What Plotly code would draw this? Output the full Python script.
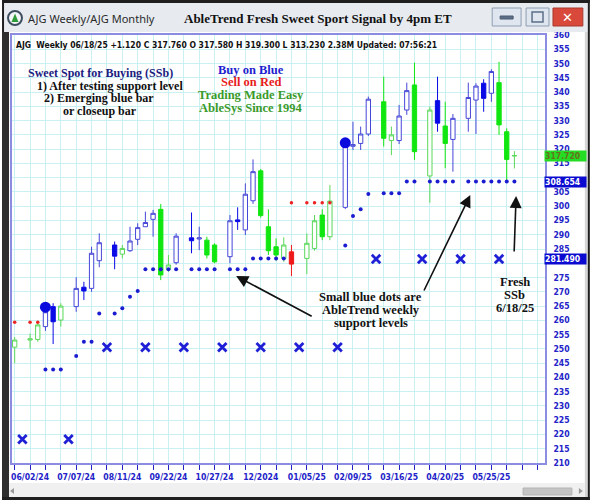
import plotly.graph_objects as go

# ---------------- data ----------------
# One slot per weekly bar; "" / None slots are blank separator columns.
week_dates = [
    "05/26/24", "", "06/02/24", "06/09/24", "06/16/24", "06/23/24", "06/30/24", "",
    "07/07/24", "07/14/24", "07/21/24", "07/28/24", "",
    "08/04/24", "08/11/24", "08/18/24", "08/25/24", "09/01/24", "09/08/24", "09/15/24", "09/22/24", "09/29/24", "",
    "10/06/24", "10/13/24", "10/20/24", "10/27/24", "",
    "11/03/24", "11/10/24", "11/17/24", "11/24/24", "12/01/24", "12/08/24", "12/15/24", "12/22/24", "12/29/24", "",
    "01/05/25", "01/12/25", "01/19/25", "01/26/25", "",
    "02/02/25", "02/09/25", "02/16/25", "02/23/25", "",
    "03/02/25", "03/09/25", "03/16/25", "03/23/25", "03/30/25", "",
    "04/06/25", "04/13/25", "04/20/25", "04/27/25", "",
    "05/04/25", "05/11/25", "05/18/25", "05/25/25", "06/01/25", "06/08/25", "06/15/25",
]

# AbleTrend bar colour: B = blue (up trend), G = green (neutral), R = red (down trend)
trend = [
    "G", "", "G", "G", "B", "B", "G", "",
    "B", "B", "B", "B", "",
    "B", "G", "B", "B", "B", "B", "G", "G", "B", "",
    "B", "B", "G", "G", "",
    "B", "B", "B", "B", "G", "G", "G", "G", "R", "",
    "G", "G", "G", "G", "",
    "B", "B", "B", "B", "",
    "G", "G", "B", "B", "G", "",
    "G", "B", "G", "B", "",
    "B", "B", "B", "B", "G", "G", "G",
]

opens = [
    250.6, None, 253.1, 253.3, 257.8, 264.8, 260.1, None,
    264.8, 271.6, 271.2, 280.9, None,
    286.4, 283.2, 284.4, 288.4, 292.8, 295.4, 298.9, 277.9, 280.2, None,
    288.9, 288.5, 288.1, 286.4, None,
    282.3, 295.2, 291.7, 301.9, 312.4, 292.8, 285.8, 281.7, 284.0, None,
    281.7, 285.2, 296.9, 289.3, None,
    299.6, 321.0, 322.0, 325.3, None,
    336.6, 323.0, 323.0, 333.7, 342.5, None,
    310.6, 337.0, 328.1, 323.4, None,
    330.8, 337.2, 343.1, 339.6, 343.3, 326.1, 317.58,
]
highs = [
    254.1, None, 255.4, 259.5, 264.5, 266.0, 266.0, None,
    275.1, 273.5, 285.8, 290.5, None,
    287.6, 286.4, 292.8, 294.0, 298.1, 298.7, 300.8, 282.9, 290.5, None,
    297.8, 292.8, 289.3, 287.0, None,
    296.9, 299.6, 308.0, 316.4, 313.0, 298.9, 288.7, 289.1, 286.4, None,
    290.5, 296.9, 298.9, 307.4, None,
    322.3, 329.6, 327.9, 338.4, None,
    345.4, 327.9, 335.5, 343.3, 350.3, None,
    334.9, 345.4, 336.6, 332.3, None,
    343.3, 343.1, 344.5, 348.0, 350.6, 327.3, 319.3,
]
lows = [
    245.0, None, 250.1, 252.5, 256.3, 251.7, 257.8, None,
    263.0, 267.1, 270.0, 278.6, None,
    277.9, 281.7, 284.0, 286.4, 292.8, 289.3, 274.1, 277.0, 279.5, None,
    283.5, 284.6, 281.7, 280.0, None,
    280.0, 291.7, 289.9, 300.8, 296.0, 282.9, 280.9, 280.5, 275.5, None,
    276.2, 284.4, 288.1, 288.1, None,
    299.0, 319.7, 319.7, 324.6, None,
    320.9, 317.9, 321.8, 332.0, 316.2, None,
    301.2, 326.1, 313.3, 312.1, None,
    326.1, 325.3, 333.1, 336.6, 325.0, 308.9, 313.23,
]
closes = [
    253.1, None, 253.5, 258.4, 263.0, 259.5, 265.0, None,
    271.2, 270.3, 283.5, 287.2, None,
    282.5, 285.2, 287.8, 292.5, 294.3, 297.5, 275.9, 279.4, 289.5, None,
    287.9, 288.9, 282.9, 280.5, None,
    294.9, 294.6, 304.2, 312.1, 296.7, 284.4, 282.9, 286.4, 279.7, None,
    287.0, 294.9, 289.3, 301.8, None,
    321.4, 321.6, 325.3, 337.5, None,
    323.8, 325.0, 331.6, 340.5, 319.1, None,
    333.7, 329.1, 322.0, 330.8, None,
    338.1, 342.1, 337.8, 347.2, 328.5, 316.4, 317.76,
]

# weekly support (small blue dots)
support = [
    None, None, None, None, 242.8, 242.8, 242.8, None,
    247.5, 252.5, 252.5, 262.4, None,
    262.4, 264.2, 268.3, 270.3, 277.9, 277.9, 277.9, 277.9, 277.9, None,
    277.9, 277.9, 277.9, 277.9, None,
    277.9, 277.9, 277.9, 281.7, 281.7, 281.7, 281.7, 281.7, None, None,
    None, None, None, None, None,
    286.2, 296.6, 298.9, 304.3, None,
    304.5, 304.5, 304.5, 308.65, 308.65, None,
    308.65, 308.65, 308.65, 308.65, None,
    308.65, 308.65, 308.65, 308.65, 308.65, 308.65, 308.65,
]
# weekly resistance (small red dots)
resistance = [
    259.3, None, 259.3, 259.3, None, None, None, None,
    None, None, None, None, None,
    None, None, None, None, None, None, None, None, None, None,
    None, None, None, None, None,
    None, None, None, None, None, None, None, None, 301.2, None,
    301.2, 301.2, 301.2, 301.2, None,
    None, None, None, None, None,
    None, None, None, None, None, None,
    None, None, None, None, None,
    None, None, None, None, None, None, None,
]
# monthly levels (blue crosses)
monthly_marks = [
    None, 218.3, None, None, None, None, None, 218.3,
    None, None, None, None, 250.6,
    None, None, None, None, 250.6, None, None, None, None, 250.6,
    None, None, None, None, 250.6,
    None, None, None, None, 250.6, None, None, None, None, 250.6,
    None, None, None, None, 250.6,
    None, None, None, None, 281.49,
    None, None, None, None, None, 281.49,
    None, None, None, None, 281.49,
    None, None, None, None, 281.49, None, None,
]
# buy signals (large blue dots)
buy_signal = [None] * 4 + [264.6] + [None] * 38 + [322.2] + [None] * 22

tick_dates = ["06/02/24", "07/07/24", "08/11/24", "09/22/24", "10/27/24", "12/01/24",
              "01/05/25", "02/09/25", "03/16/25", "04/20/25", "05/25/25"]
tick_labels = ["06/02/24", "07/07/24", "08/11/24", "09/22/24", "10/27/24", "12/2024",
               "01/05/25", "02/09/25", "03/16/25", "04/20/25", "05/25/25"]

price_levels = list(range(210, 361, 5))
hidden_levels = [280, 310]          # covered by the value tags

price_tags = [317.72, 308.654, 281.49]
price_tag_text = ["317.720", "308.654", "281.490"]

header = ("AJG  Weekly 06/18/25 +1.120 C 317.760 O 317.580 H 319.300 "
          "L 313.230 2.38M Updated: 07:56:21")

# ---------------- geometry helpers ----------------
W, H = 590, 500
ML, MR, MT, MB = 10, 45, 35, 37
PW, PH = W - ML - MR, H - MT - MB


def px(x):
    return (x - ML) / PW


def py(y):
    return (H - MB - y) / PH


NARROW = "Liberation Sans Narrow, Arial Narrow, DejaVu Sans Condensed, sans-serif"
SERIF = "Liberation Serif, Times New Roman, serif"
UI = "Noto Sans, DejaVu Sans, sans-serif"
AXIS_BLUE = "#2323c8"
AXIS_SIZE = 8.6

slots = list(range(len(week_dates)))

fig = go.Figure()

# candles, one trace per trend colour (hollow = close above open)
styles = {
    "B": ("#4646d8", "#0a0ae6"),
    "G": ("#5ad85a", "#10e610"),
    "R": ("#ee2020", "#ee1a1a"),
}
for key, (hollow_col, solid_col) in styles.items():
    idx = [i for i in slots if trend[i] == key]
    fig.add_trace(go.Candlestick(
        x=idx,
        open=[opens[i] for i in idx], high=[highs[i] for i in idx],
        low=[lows[i] for i in idx], close=[closes[i] for i in idx],
        increasing=dict(line=dict(color=hollow_col, width=1), fillcolor="white"),
        decreasing=dict(line=dict(color=solid_col, width=1), fillcolor=solid_col),
        whiskerwidth=0, hoverinfo="skip", showlegend=False,
    ))

fig.add_trace(go.Scatter(x=slots, y=support, mode="markers",
                         marker=dict(size=4, color="#1c1cd0"),
                         hoverinfo="skip", showlegend=False))
fig.add_trace(go.Scatter(x=slots, y=resistance, mode="markers",
                         marker=dict(size=3.5, color="#ee2222"),
                         hoverinfo="skip", showlegend=False))
fig.add_trace(go.Scatter(x=slots, y=monthly_marks, mode="markers",
                         marker=dict(symbol="x-thin", size=8.5, color="#1f1fd6",
                                     line=dict(width=2.8, color="#1f1fd6")),
                         hoverinfo="skip", showlegend=False))
fig.add_trace(go.Scatter(x=slots, y=buy_signal, mode="markers",
                         marker=dict(size=11, color="#0b0bdd"),
                         hoverinfo="skip", showlegend=False))

# x ticks every second slot, labels at the dated columns
tickvals = list(range(0, 69, 2))
label_at = {week_dates.index(d): t for d, t in zip(tick_dates, tick_labels)}
ticktext = [label_at.get(v, "") for v in tickvals]

y_ticktext = ["" if v in hidden_levels else str(v) for v in price_levels]

slot_px = 7.717
x0 = -(12.7 - ML) / slot_px

fig.update_layout(
    width=W, height=H,
    margin=dict(l=ML, r=MR, t=MT, b=MB),
    paper_bgcolor="white", plot_bgcolor="white",
    boxgap=0.2,
    xaxis=dict(range=[x0, x0 + PW / slot_px], tickmode="array",
               tickvals=tickvals, ticktext=ticktext,
               ticks="outside", ticklen=5, tickcolor=AXIS_BLUE, tickwidth=1,
               showgrid=True, gridcolor="#c9f1f3", gridwidth=1,
               showline=True, mirror=True, linecolor="#8c8ce0", linewidth=1.5,
               zeroline=False, rangeslider=dict(visible=False),
               tickfont=dict(family=NARROW, size=AXIS_SIZE, color=AXIS_BLUE, weight="bold"),
               tickangle=0, fixedrange=True),
    yaxis=dict(range=[210, 360], tickmode="array",
               tickvals=price_levels, ticktext=y_ticktext, side="right",
               showgrid=True, gridcolor="#c9f1f3", gridwidth=1,
               showline=True, mirror=True, linecolor="#8c8ce0", linewidth=1.5,
               zeroline=False, ticks="", ticklabelstandoff=5,
               tickfont=dict(family=NARROW, size=AXIS_SIZE, color=AXIS_BLUE, weight="bold"),
               fixedrange=True),
)

shapes = []
ann = []


def rect(x0_, y0_, x1_, y1_, fill, line=None, lw=0, layer="above"):
    shapes.append(dict(type="rect", xref="paper", yref="paper",
                       x0=px(x0_), x1=px(x1_), y0=py(y1_), y1=py(y0_),
                       fillcolor=fill, line=dict(color=line or fill, width=lw),
                       layer=layer))


def text(x, y, s, size, color, family=SERIF, bold=True, xanchor="center"):
    ann.append(dict(xref="paper", yref="paper", x=px(x), y=py(y), text=s,
                    showarrow=False, xanchor=xanchor, yanchor="middle",
                    borderpad=0,
                    font=dict(family=family, size=size, color=color,
                              weight="bold" if bold else "normal")))


# window chrome
rect(0, 0, 590, 32, "#e7ebf0")
rect(0, 0, 590, 3, "#1f1f1f")
rect(0, 0, 2, 500, "#1f1f1f")
rect(0, 32, 7, 500, "#2e2e2e")
rect(585, 32, 588, 500, "#d6d6d6")
rect(588, 0, 590, 500, "#1f1f1f")
rect(7, 483, 585, 497, "#f0f0f0")
rect(0, 497, 590, 500, "#1f1f1f")
# scrollbar
rect(523, 488, 572, 495, "#c4c4c4", "#b4b4b4", 1)
shapes.append(dict(type="path", xref="paper", yref="paper",
                   path=f"M {px(8)} {py(491)} L {px(12)} {py(488)} L {px(12)} {py(494)} Z",
                   fillcolor="#9a9a9a", line=dict(width=0)))
shapes.append(dict(type="path", xref="paper", yref="paper",
                   path=f"M {px(583)} {py(491)} L {px(579)} {py(488)} L {px(579)} {py(494)} Z",
                   fillcolor="#9a9a9a", line=dict(width=0)))
# window buttons
rect(492, 8, 521, 26, "#dfe6ef", "#8d9db3", 1)
rect(500, 16, 513, 19, "#5d7088", "#4a5a70", 1)
rect(526, 8, 549, 26, "#dfe6ef", "#8d9db3", 1)
rect(532, 12, 543, 22, "#dfe6ef", "#5d7088", 1.5)
rect(553, 8, 583, 26, "#d8493c", "#a8392e", 1)
text(568, 17.5, "✕", 13, "white", family=UI)
# window icon
shapes.append(dict(type="circle", xref="paper", yref="paper",
                   x0=px(6), x1=px(20), y0=py(25), y1=py(11),
                   fillcolor="#f4f6f8", line=dict(color="#3e4e60", width=2)))
shapes.append(dict(type="path", xref="paper", yref="paper",
                   path=f"M {px(9.5)} {py(22)} L {px(13)} {py(13.5)} L {px(16.5)} {py(22)} Z",
                   fillcolor="#2f9a3a", line=dict(width=0)))

text(25, 18, "AJG Weekly/AJG Monthly", 11, "#2a2a2a", family=UI, bold=False, xanchor="left")
text(317, 18, "AbleTrend Fresh Sweet Sport Signal by 4pm ET", 13, "#111111")

# header line inside the panel
text(13, 45, header, 8.5, "#111111", family=NARROW, xanchor="left")

# left note
text(99, 73, "Sweet Spot for Buying (SSb)", 12, "#1c1c80")
text(108, 85.7, "1) After testing support level", 12, "#111111")
text(97.5, 98.4, "2) Emerging blue bar", 12, "#111111")
text(98, 111, "or closeup bar", 12, "#111111")
# colour legend
text(250, 69.5, "Buy on Blue", 12.5, "#1f1fd0")
text(250, 82, "Sell on Red", 12.5, "#e81c1c")
text(250, 95, "Trading Made Easy", 12.5, "#3a9a2a")
text(250, 108, "AbleSys Since 1994", 12.5, "#3a9a2a")
# support note
text(370, 297, "Small blue dots are", 12.5, "#111111")
text(370, 310, "AbleTrend weekly", 12.5, "#111111")
text(370, 322.5, "support levels", 12.5, "#111111")
# signal note
text(515, 282, "Fresh", 12.5, "#111111")
text(514, 295, "SSb", 12.5, "#111111")
text(515, 308, "6/18/25", 12.5, "#111111")

# arrows (head at the support dots)
for hx, hy, tx, ty in [(235, 276, 312, 317), (470, 195, 423, 292), (516, 196, 514, 253)]:
    ann.append(dict(xref="paper", yref="paper", x=px(hx), y=py(hy), text="",
                    showarrow=True, axref="pixel", ayref="pixel",
                    ax=tx - hx, ay=ty - hy, arrowhead=2, arrowsize=1.5,
                    arrowwidth=1.6, arrowcolor="#111111", standoff=0))

# value tags on the price scale
tag_style = [("#24dc24", "#66731c"), ("#0a0ad0", "white"), ("#0a0ad0", "white")]
for v, t, (bg, fg) in zip(price_tags, price_tag_text, tag_style):
    ann.append(dict(xref="paper", yref="y", x=1, y=v, text=t, showarrow=False,
                    xanchor="left", yanchor="middle", xshift=-1,
                    width=41, height=10, align="left", bgcolor=bg, borderpad=0,
                    font=dict(family=NARROW, size=AXIS_SIZE, color=fg, weight="bold")))

fig.update_layout(shapes=shapes, annotations=ann)
fig.write_html("out.html")
